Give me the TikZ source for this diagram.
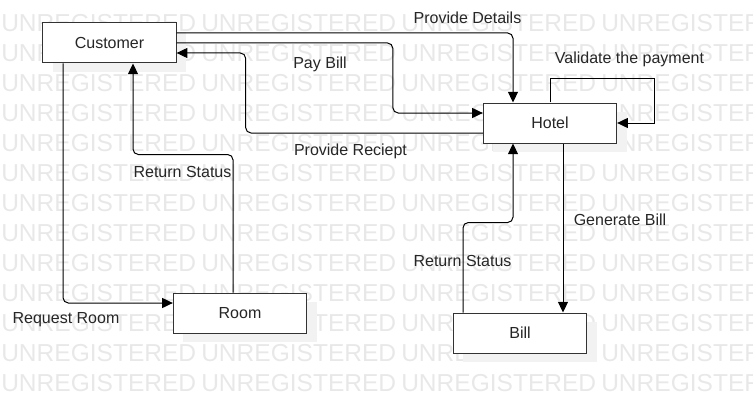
\documentclass[tikz,border=0pt]{standalone}
\usepackage{fontspec}
\setmainfont{Liberation Sans}
\usetikzlibrary{calc,arrows.meta,shadows}

\begin{document}
\begin{tikzpicture}[x=0.75pt,y=-0.75pt,
  entity/.style={draw=black!80,fill=white,line width=0.75pt,minimum width=100pt,minimum height=30pt,inner sep=0pt,
    font=\fontsize{12}{14}\selectfont,text=black!85,
    drop shadow={shadow xshift=7.5pt,shadow yshift=-6.75pt,fill=black!5,opacity=1}},
  flow/.style={line width=0.75pt,rounded corners=4pt,-{Triangle[length=8pt,width=7.5pt]}},
  lbl/.style={font=\fontsize{12}{14}\selectfont,text=black!85,inner sep=0pt,text height=8.6pt,text depth=0pt},
  wmark/.style={font=\fontsize{18.4}{20}\selectfont,text=black!9,anchor=west,inner sep=0pt,text height=13.2pt,text depth=0pt}]
  \useasboundingbox (0,0) rectangle (753,403);

  % watermark
  \begin{scope}
    \clip (0,0) rectangle (753,403);
    \foreach \r in {0,...,12}
      \foreach \c in {0,...,3}
        \node[wmark] (wm-\r-\c) at (1+200*\c,23+30*\r) {UNREGISTERED};
  \end{scope}

  \node[entity] (customer) at (109.5,43) {Customer};
  \node[entity] (hotel) at (550,123) {Hotel};
  \node[entity] (room) at (240,313) {Room};
  \node[entity] (bill) at (520,333) {Bill};

  \draw[flow] ($(customer.east)+(0,-10)$) -| ($(hotel.north)+(-37,0)$);
  \draw[flow] (customer.east) -| ($(hotel.west)+(-90,-10)$) -- ($(hotel.west)+(0,-10)$);
  \draw[flow] ($(hotel.west)+(0,10)$) -| ($(customer.east)+(69,10)$) -- ($(customer.east)+(0,10)$);
  \draw[flow] ($(room.north)+(-7,0)$) -- ++(0,-138) -| ($(customer.south)+(23.5,0)$);
  \draw[flow] ($(customer.south)+(-46.5,0)$) |- ($(room.west)+(0,-10)$);
  \draw[flow,sharp corners] (hotel.north) -- ++(0,-24) -| ($(hotel.east)+(37,0)$) -- (hotel.east);
  \draw[flow] ($(hotel.south)+(13,0)$) -- ($(bill.north)+(43,0)$);
  \draw[flow] ($(bill.north)+(-57,0)$) -- ++(0,-90) -| ($(hotel.south)+(-37,0)$);

  \node[lbl] (ldetails) at (467.5,18) {Provide Details};
  \node[lbl] (lpay) at (320,63) {Pay Bill};
  \node[lbl] (lreceipt) at (350.5,150) {Provide Reciept};
  \node[lbl] (lstatusroom) at (182.5,172) {Return Status};
  \node[lbl] (lrequest) at (66,318) {Request Room};
  \node[lbl] (lvalidate) at (629.5,58) {Validate the payment};
  \node[lbl] (lgenerate) at (620,220) {Generate Bill};
  \node[lbl] (lstatusbill) at (462.5,261) {Return Status};
\end{tikzpicture}
\end{document}
